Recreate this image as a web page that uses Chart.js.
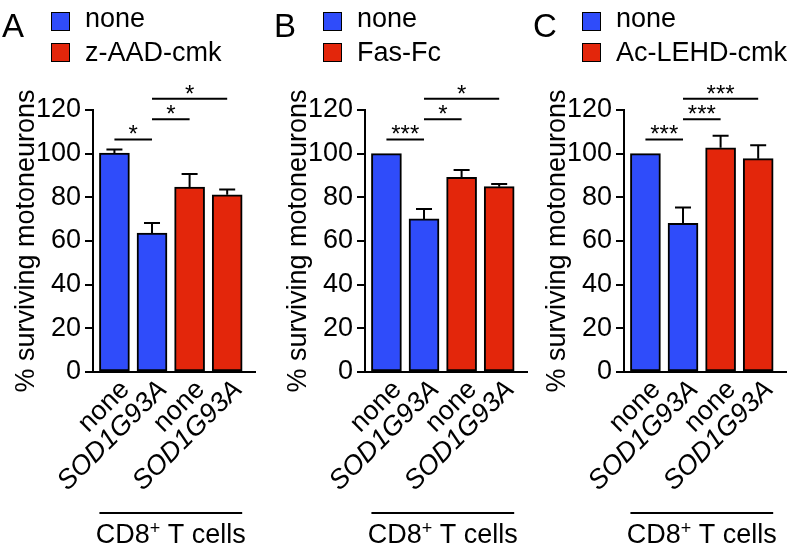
<!DOCTYPE html>
<html>
<head>
<meta charset="utf-8">
<script src="https://cdn.jsdelivr.net/npm/chart.js@4.4.0/dist/chart.umd.min.js"></script>
<style>
  html, body { margin: 0; padding: 0; background: #fff; overflow: hidden; }
  body { width: 789px; height: 552px; position: relative; font-family: 'Liberation Sans', Arial, sans-serif; color: #000; }
  canvas { position: absolute; top: 0; }
  .letter { position: absolute; top: 9px; font-size: 33px; line-height: 1; }
  .key { position: absolute; width: 17px; height: 17px; border: 1.5px solid #000; }
  .lab { position: absolute; font-size: 27px; line-height: 1; white-space: nowrap; }
</style>
</head>
<body>
<canvas id="chartA" width="258" height="552" style="left:0px"></canvas>
<canvas id="chartB" width="258" height="552" style="left:272px"></canvas>
<canvas id="chartC" width="258" height="552" style="left:531px"></canvas>
<script>
// values (% surviving motoneurons, mean + SEM)
const categories = ['none', 'SOD1G93A', 'none', 'SOD1G93A'];
const yTicks = [0, 20, 40, 60, 80, 100, 120];

const legendA = ['none', 'z-AAD-cmk'];
const legendB = ['none', 'Fas-Fc'];
const legendC = ['none', 'Ac-LEHD-cmk'];

const meanA = [100.3, 63.6, 84.7, 81.2];
const semA = [1.6, 4.6, 6.0, 2.4];
const meanB = [100, 70.1, 89.2, 84.9];
const semB = [0, 4.5, 3.3, 1.2];
const meanC = [100, 68.1, 102.7, 97.7];
const semC = [0, 7.3, 5.5, 6.2];

// [from bar, to bar, stars]
const sigA = [[0, 1, '*'], [1, 2, '*'], [1, 3, '*']];
const sigB = [[0, 1, '***'], [1, 2, '*'], [1, 3, '*']];
const sigC = [[0, 1, '***'], [1, 2, '***'], [1, 3, '***']];

const BLUE = '#2f4cfa';
const RED = '#e3260b';
const FONT = "'Liberation Sans', Arial, sans-serif";
Chart.defaults.font.family = FONT;
Chart.defaults.color = '#000';

// error bars, significance brackets and the CD8+ T cells group line
const extras = {
  id: 'extras',
  afterDatasetsDraw(chart, args, opts) {
    const ctx = chart.ctx;
    const xs = chart.scales.x, ys = chart.scales.y;
    ctx.save();
    ctx.strokeStyle = '#000';
    ctx.fillStyle = '#000';
    ctx.lineWidth = 2;

    chart.data.datasets.forEach((ds, di) => {
      chart.getDatasetMeta(di).data.forEach((bar, i) => {
        const e = ds.sem[i];
        if (!e) return;
        const top = ys.getPixelForValue(ds.data[i].y + e);
        ctx.beginPath();
        ctx.moveTo(bar.x, bar.y);
        ctx.lineTo(bar.x, top);
        ctx.moveTo(bar.x - 8, top);
        ctx.lineTo(bar.x + 8, top);
        ctx.stroke();
      });
    });

    ctx.font = '24px ' + FONT;
    ctx.textAlign = 'center';
    ctx.textBaseline = 'alphabetic';
    opts.sig.forEach(([a, b, stars], lvl) => {
      const yy = ys.getPixelForValue(106.5 + lvl * 9.3);
      const x1 = xs.getPixelForValue(a + 1), x2 = xs.getPixelForValue(b + 1);
      ctx.beginPath();
      ctx.moveTo(x1, yy);
      ctx.lineTo(x2, yy);
      ctx.stroke();
      ctx.fillText(stars, (x1 + x2) / 2, yy + 3);
    });

    // group line under the tick labels
    const metas = chart.getSortedVisibleDatasetMetas();
    const first = metas[0].data[0];
    const lastMeta = metas[metas.length - 1].data;
    const last = lastMeta[lastMeta.length - 1];
    const l = first.x - first.width / 2, r = last.x + last.width / 2;
    const ly = chart.chartArea.bottom + 141;
    ctx.beginPath();
    ctx.moveTo(l, ly);
    ctx.lineTo(r, ly);
    ctx.stroke();

    const big = '27px ' + FONT, small = '18px ' + FONT;
    ctx.font = big; const w1 = ctx.measureText('CD8').width; const w3 = ctx.measureText(' T cells').width;
    ctx.font = small; const w2 = ctx.measureText('+').width;
    let tx = (l + r) / 2 - (w1 + w2 + w3) / 2;
    const base = chart.chartArea.bottom + 171;
    ctx.textAlign = 'left';
    ctx.font = big; ctx.fillText('CD8', tx, base); tx += w1;
    ctx.font = small; ctx.fillText('+', tx, base - 9); tx += w2;
    ctx.font = big; ctx.fillText(' T cells', tx, base);
    ctx.restore();
  }
};

function makePanel(id, left, letter, legend, mean, sem, sig) {
  // letter + legend
  const L = document.createElement('div');
  L.className = 'letter';
  L.style.left = (left + 2) + 'px';
  L.textContent = letter;
  document.body.appendChild(L);
  [BLUE, RED].forEach((c, i) => {
    const k = document.createElement('div');
    k.className = 'key';
    k.style.left = (left + 51) + 'px';
    k.style.top = (12 + i * 31) + 'px';
    k.style.background = c;
    document.body.appendChild(k);
    const t = document.createElement('div');
    t.className = 'lab';
    t.style.left = (left + 85) + 'px';
    t.style.top = (5 + i * 34) + 'px';
    t.textContent = legend[i];
    document.body.appendChild(t);
  });

  const pts = mean.map((v, i) => ({ x: i + 1, y: v }));
  new Chart(document.getElementById(id), {
    type: 'bar',
    data: {
      datasets: [
        { label: legend[0], data: pts.slice(0, 2), sem: sem.slice(0, 2), backgroundColor: BLUE },
        { label: legend[1], data: pts.slice(2), sem: sem.slice(2), backgroundColor: RED }
      ]
    },
    options: {
      responsive: false,
      animation: false,
      events: [],
      layout: { padding: { top: 110, right: 3, left: 0, bottom: 0 } },
      datasets: { bar: { grouped: false, barThickness: 30, borderColor: '#000', borderWidth: 2, borderSkipped: false } },
      plugins: { legend: { display: false }, tooltip: { enabled: false }, extras: { sig } },
      scales: {
        x: {
          type: 'linear',
          offset: false,
          min: 0.43,
          max: 4.74,
          afterBuildTicks: s => { s.ticks = categories.map((c, i) => ({ value: i + 1 })); },
          afterFit: s => { s.height = 180; s.paddingLeft = 0; s.paddingRight = 0; },
          grid: { display: false, drawTicks: false },
          border: { display: true, color: '#000', width: 2 },
          ticks: {
            autoSkip: false,
            minRotation: 45,
            maxRotation: 45,
            padding: 2,
            labelOffset: 11,
            color: '#000',
            callback: v => categories[v - 1],
            font: c => ({ size: 27, style: c.index % 2 ? 'italic' : 'normal' })
          }
        },
        y: {
          min: 0,
          max: 120,
          afterBuildTicks: s => { s.ticks = yTicks.map(v => ({ value: v })); },
          afterFit: s => { s.width = 93; s.paddingTop = 0; s.paddingBottom = 0; },
          grid: { drawOnChartArea: false, color: '#000', lineWidth: 2, tickLength: 8 },
          border: { display: true, color: '#000', width: 2 },
          ticks: { padding: 4, color: '#000', font: { size: 27 } },
          title: { display: true, text: '% surviving motoneurons', color: '#000', font: { size: 27 }, padding: { top: 10, bottom: 0 } }
        }
      }
    },
    plugins: [extras]
  });
}

makePanel('chartA', 0, 'A', legendA, meanA, semA, sigA);
makePanel('chartB', 272, 'B', legendB, meanB, semB, sigB);
makePanel('chartC', 531, 'C', legendC, meanC, semC, sigC);
</script>
</body>
</html>
